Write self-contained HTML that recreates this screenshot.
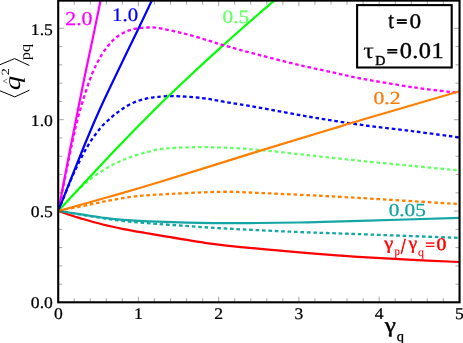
<!DOCTYPE html>
<html><head><meta charset="utf-8"><title>plot</title>
<style>html,body{margin:0;padding:0;background:#fff;overflow:hidden}svg{display:block}svg{font-family:"Liberation Serif",serif;text-rendering:geometricPrecision}</style>
</head><body>
<svg width="463" height="343" viewBox="0 0 463 343">
<defs><filter id="soft" x="0" y="0" width="463" height="343" filterUnits="userSpaceOnUse"><feGaussianBlur stdDeviation="0.3"/></filter></defs>
<g filter="url(#soft)">
<rect x="-5" y="-5" width="473" height="353" fill="#fff"/>
<clipPath id="c"><rect x="58.20" y="0" width="401.35" height="302.30"/></clipPath>
<g clip-path="url(#c)" fill="none" stroke-linecap="butt" stroke-linejoin="round">
<path d="M58.30,210.95 C61.90,211.52 72.65,213.22 79.90,214.40 C87.15,215.58 94.52,216.90 101.80,218.00 C109.08,219.10 114.23,220.02 123.60,221.00 C132.97,221.98 143.88,222.82 158.00,223.90 C172.12,224.98 191.63,226.45 208.30,227.50 C224.97,228.55 241.33,229.38 258.00,230.20 C274.67,231.02 291.63,231.75 308.30,232.40 C324.97,233.05 332.80,233.18 358.00,234.10 C383.20,235.02 442.58,237.27 459.50,237.90" stroke="#12a5a5" stroke-width="2.3" stroke-dasharray="3.6 2.8"/>
<path d="M58.30,210.95 C63.72,209.84 81.73,206.14 90.80,204.30 C99.87,202.46 105.40,201.22 112.70,199.90 C120.00,198.58 127.05,197.28 134.60,196.40 C142.15,195.52 143.88,195.37 158.00,194.60 C172.12,193.83 202.63,192.08 219.30,191.80 C235.97,191.52 243.17,192.33 258.00,192.90 C272.83,193.47 291.30,194.35 308.30,195.20 C325.30,196.05 334.80,196.52 360.00,198.00 C385.20,199.48 442.92,203.08 459.50,204.10" stroke="#ff7f00" stroke-width="2.3" stroke-dasharray="3.6 2.8"/>
<path d="M58.30,210.95 C61.08,207.97 71.38,196.91 75.00,193.10 C78.62,189.29 78.33,189.68 80.00,188.10 C81.67,186.52 83.33,185.03 85.00,183.60 C86.67,182.17 87.50,181.38 90.00,179.50 C92.50,177.62 96.67,174.50 100.00,172.30 C103.33,170.10 106.67,168.13 110.00,166.30 C113.33,164.47 116.67,162.80 120.00,161.30 C123.33,159.80 125.83,158.77 130.00,157.30 C134.17,155.83 140.00,153.85 145.00,152.50 C150.00,151.15 154.83,149.98 160.00,149.20 C165.17,148.42 169.77,148.13 176.00,147.80 C182.23,147.47 189.47,147.23 197.40,147.20 C205.33,147.17 213.50,147.17 223.60,147.60 C233.70,148.03 243.88,148.53 258.00,149.80 C272.12,151.07 291.30,153.37 308.30,155.20 C325.30,157.03 342.50,159.00 360.00,160.80 C377.50,162.60 396.72,164.38 413.30,166.00 C429.88,167.62 451.80,169.75 459.50,170.50" stroke="#66ff66" stroke-width="2.3" stroke-dasharray="3.6 2.8"/>
<path d="M58.30,210.95 C60.32,205.96 67.17,188.66 70.40,181.00 C73.63,173.34 75.27,170.05 77.70,165.00 C80.13,159.95 83.33,153.85 85.00,150.70 C86.67,147.55 86.72,147.73 87.70,146.10 C88.68,144.47 89.73,142.67 90.90,140.90 C92.07,139.13 93.43,137.23 94.70,135.50 C95.97,133.77 97.15,132.20 98.50,130.50 C99.85,128.80 101.22,126.97 102.80,125.30 C104.38,123.63 106.33,122.02 108.00,120.50 C109.67,118.98 111.22,117.55 112.80,116.20 C114.38,114.85 115.97,113.57 117.50,112.40 C119.03,111.23 120.35,110.32 122.00,109.20 C123.65,108.08 125.50,106.78 127.40,105.70 C129.30,104.62 131.42,103.57 133.40,102.70 C135.38,101.83 137.32,101.13 139.30,100.50 C141.28,99.87 143.32,99.37 145.30,98.90 C147.28,98.43 149.15,98.03 151.20,97.70 C153.25,97.37 153.92,97.17 157.60,96.90 C161.28,96.63 165.93,95.92 173.30,96.10 C180.67,96.28 193.42,97.07 201.80,98.00 C210.18,98.93 214.23,100.13 223.60,101.70 C232.97,103.27 243.88,104.92 258.00,107.40 C272.12,109.88 291.30,113.72 308.30,116.60 C325.30,119.48 342.50,122.25 360.00,124.70 C377.50,127.15 396.72,129.18 413.30,131.30 C429.88,133.42 451.80,136.38 459.50,137.40" stroke="#0000ff" stroke-width="2.3" stroke-dasharray="3.6 2.8"/>
<path d="M58.30,210.95 C60.08,211.57 65.40,213.51 69.00,214.70 C72.60,215.89 74.43,216.50 79.90,218.10 C85.37,219.70 94.52,222.47 101.80,224.30 C109.08,226.13 116.32,227.65 123.60,229.10 C130.88,230.55 139.77,232.00 145.50,233.00 C151.23,234.00 147.53,233.38 158.00,235.10 C168.47,236.82 191.63,241.03 208.30,243.30 C224.97,245.57 241.33,247.07 258.00,248.70 C274.67,250.33 291.63,251.75 308.30,253.10 C324.97,254.45 341.38,255.72 358.00,256.80 C374.62,257.88 391.08,258.73 408.00,259.60 C424.92,260.47 450.92,261.60 459.50,262.00" stroke="#ff0000" stroke-width="2.2"/>
<path d="M58.30,210.95 C61.90,211.49 72.65,213.11 79.90,214.20 C87.15,215.29 94.52,216.55 101.80,217.50 C109.08,218.45 114.23,219.20 123.60,219.90 C132.97,220.60 143.15,221.17 158.00,221.70 C172.85,222.23 196.03,222.88 212.70,223.10 C229.37,223.32 242.07,223.13 258.00,223.00 C273.93,222.87 291.30,222.65 308.30,222.30 C325.30,221.95 334.80,221.63 360.00,220.90 C385.20,220.17 442.92,218.40 459.50,217.90" stroke="#12a5a5" stroke-width="2.2"/>
<path d="M58.30,210.95 C67.77,200.79 98.48,167.46 115.10,150.00 C131.72,132.54 145.38,118.70 158.00,106.20 C170.62,93.70 179.87,85.22 190.80,75.00 C201.73,64.78 212.40,54.98 223.60,44.90 C234.80,34.82 249.85,21.62 258.00,14.50 C266.15,7.38 269.00,5.17 272.50,2.20 C276.00,-0.77 277.92,-2.38 279.00,-3.30" stroke="#00ff00" stroke-width="2.2"/>
<path d="M58.30,210.95 C60.37,200.79 67.65,164.64 70.70,150.00 C73.75,135.36 74.70,130.87 76.60,123.10 C78.50,115.33 79.60,111.42 82.10,103.40 C84.60,95.38 88.32,83.12 91.60,75.00 C94.88,66.88 98.28,60.45 101.80,54.70 C105.32,48.95 109.07,44.15 112.70,40.50 C116.33,36.85 119.95,34.73 123.60,32.80 C127.25,30.87 130.95,29.77 134.60,28.90 C138.25,28.03 141.60,27.75 145.50,27.60 C149.40,27.45 151.72,27.05 158.00,28.00 C164.28,28.95 174.82,31.22 183.20,33.30 C191.58,35.38 201.57,38.50 208.30,40.50 C215.03,42.50 215.32,42.93 223.60,45.30 C231.88,47.67 244.97,51.32 258.00,54.70 C271.03,58.08 287.63,62.27 301.80,65.60 C315.97,68.93 333.22,72.55 343.00,74.70 C352.78,76.85 348.78,76.40 360.50,78.50 C372.22,80.60 396.80,84.87 413.30,87.30 C429.80,89.73 451.80,92.13 459.50,93.10" stroke="#ff00ff" stroke-width="2.3" stroke-dasharray="3.6 2.8"/>
<path d="M58.30,210.95 C60.25,200.79 66.77,166.64 70.00,150.00 C73.23,133.36 75.20,123.60 77.70,111.10 C80.20,98.60 82.45,87.32 85.00,75.00 C87.55,62.68 90.47,49.33 93.00,37.20 C95.53,25.07 98.83,8.90 100.20,2.20 C101.57,-4.50 101.03,-2.13 101.20,-3.00" stroke="#ff00ff" stroke-width="2.2"/>
<path d="M58.30,210.95 C62.33,200.79 75.80,166.46 82.50,150.00 C89.20,133.54 92.92,124.70 98.50,112.20 C104.08,99.70 109.25,89.13 116.00,75.00 C122.75,60.87 133.17,39.53 139.00,27.40 C144.83,15.27 148.58,7.27 151.00,2.20 C153.42,-2.87 153.08,-2.13 153.50,-3.00" stroke="#0000ff" stroke-width="2.2"/>
<path d="M58.30,210.95 C66.63,208.62 91.68,201.74 108.30,197.00 C124.92,192.26 133.05,190.10 158.00,182.50 C182.95,174.90 229.48,160.18 258.00,151.40 C286.52,142.62 311.60,135.12 329.10,129.80 C346.60,124.48 341.27,125.92 363.00,119.50 C384.73,113.08 443.42,96.00 459.50,91.30" stroke="#ff7f00" stroke-width="2.2"/>
</g>
<rect x="58.20" y="0.60" width="401.35" height="301.70" fill="none" stroke="#000" stroke-width="2.1"/>
<rect x="357.1" y="5.1" width="94.6" height="62.4" fill="#fff" stroke="#000" stroke-width="2.1"/>
<g transform="translate(52.90,34.56) scale(1.0683,0.9870)"><text font-family="Liberation Serif" font-size="16.5" fill="#000" stroke="#000" stroke-width="0.25" text-anchor="end">1.5</text></g>
<g transform="translate(52.90,125.86) scale(1.0683,0.9870)"><text font-family="Liberation Serif" font-size="16.5" fill="#000" stroke="#000" stroke-width="0.25" text-anchor="end">1.0</text></g>
<g transform="translate(52.90,217.16) scale(1.0683,0.9870)"><text font-family="Liberation Serif" font-size="16.5" fill="#000" stroke="#000" stroke-width="0.25" text-anchor="end">0.5</text></g>
<g transform="translate(52.90,308.46) scale(1.0683,0.9870)"><text font-family="Liberation Serif" font-size="16.5" fill="#000" stroke="#000" stroke-width="0.25" text-anchor="end">0.0</text></g>
<g transform="translate(58.30,319.31) scale(1.0683,0.9870)"><text font-family="Liberation Serif" font-size="16.5" fill="#000" stroke="#000" stroke-width="0.25" text-anchor="middle">0</text></g>
<g transform="translate(138.50,319.31) scale(1.0683,0.9870)"><text font-family="Liberation Serif" font-size="16.5" fill="#000" stroke="#000" stroke-width="0.25" text-anchor="middle">1</text></g>
<g transform="translate(218.70,319.31) scale(1.0683,0.9870)"><text font-family="Liberation Serif" font-size="16.5" fill="#000" stroke="#000" stroke-width="0.25" text-anchor="middle">2</text></g>
<g transform="translate(298.90,319.31) scale(1.0683,0.9870)"><text font-family="Liberation Serif" font-size="16.5" fill="#000" stroke="#000" stroke-width="0.25" text-anchor="middle">3</text></g>
<g transform="translate(379.10,319.31) scale(1.0683,0.9870)"><text font-family="Liberation Serif" font-size="16.5" fill="#000" stroke="#000" stroke-width="0.25" text-anchor="middle">4</text></g>
<g transform="translate(459.40,319.31) scale(1.0683,0.9870)"><text font-family="Liberation Serif" font-size="16.5" fill="#000" stroke="#000" stroke-width="0.25" text-anchor="middle">5</text></g>
<g transform="translate(65.21,24.70) scale(1.1196,1.0074)"><text font-family="Liberation Serif" font-size="19.5" fill="#ff00ff" stroke="#ff00ff" stroke-width="0.25">2.0</text></g>
<g transform="translate(112.10,21.31) scale(1.0674,0.9745)"><text font-family="Liberation Serif" font-size="19.5" fill="#0000ff" stroke="#0000ff" stroke-width="0.25">1.0</text></g>
<g transform="translate(222.60,23.01) scale(1.0946,0.9709)"><text font-family="Liberation Serif" font-size="19.5" fill="#66ff66" stroke="#66ff66" stroke-width="0.25">0.5</text></g>
<g transform="translate(373.49,104.38) scale(1.1109,0.9418)"><text font-family="Liberation Serif" font-size="19.5" fill="#ff7800" stroke="#ff7800" stroke-width="0.25">0.2</text></g>
<g transform="translate(388.65,216.38) scale(1.0909,0.9418)"><text font-family="Liberation Serif" font-size="19.5" fill="#0fa3a3" stroke="#0fa3a3" stroke-width="0.25">0.05</text></g>
<g transform="translate(384.28,249.48) scale(1.1030,0.9692)"><text font-family="Liberation Serif" font-size="18.5" fill="#ff0000" stroke="#ff0000" stroke-width="0.4">γ</text></g>
<g transform="translate(394.40,255.24) scale(0.8667,0.9314)"><text font-family="Liberation Serif" font-size="12.5" fill="#ff0000" stroke="#ff0000" stroke-width="0.15">p</text></g>
<g transform="translate(401.10,252.51) scale(0.8000,1.0552)"><text font-family="Liberation Serif" font-size="20" fill="#ff0000" stroke="#ff0000" stroke-width="0.8">/</text></g>
<g transform="translate(408.71,249.48) scale(1.0242,0.9692)"><text font-family="Liberation Serif" font-size="18.5" fill="#ff0000" stroke="#ff0000" stroke-width="0.4">γ</text></g>
<g transform="translate(418.06,255.93) scale(0.9500,0.9333)"><text font-family="Liberation Serif" font-size="12.5" fill="#ff0000" stroke="#ff0000" stroke-width="0.15">q</text></g>
<g transform="translate(425.29,249.75) scale(1.2286,1.1412)"><text font-family="Liberation Serif" font-size="14" fill="#ff0000" stroke="#ff0000" stroke-width="0.45">=</text></g>
<g transform="translate(436.43,250.27) scale(1.0629,0.9623)"><text font-family="Liberation Serif" font-size="18.5" fill="#ff0000" stroke="#ff0000" stroke-width="0.5">0</text></g>
<g transform="translate(388.20,28.07) scale(0.9120,1.0566)"><text font-family="Liberation Serif" font-size="22" fill="#000" stroke="#000" stroke-width="0.4">t</text></g>
<g transform="translate(396.50,25.75) scale(1.3419,0.9789)"><text font-family="Liberation Serif" font-size="14" fill="#000" stroke="#000" stroke-width="0.95">=</text></g>
<g transform="translate(409.57,28.13) scale(1.0600,0.9419)"><text font-family="Liberation Serif" font-size="22" fill="#000" stroke="#000" stroke-width="0.4">0</text></g>
<g transform="translate(363.29,58.34) scale(1.2242,1.0286)"><text font-family="Liberation Serif" font-size="22" fill="#000" stroke="#000" stroke-width="0.1">τ</text></g>
<g transform="translate(375.20,65.16) scale(1.0000,0.9744)"><text font-family="Liberation Serif" font-size="14" fill="#000" stroke="#000" stroke-width="0.45">D</text></g>
<g transform="translate(387.10,55.85) scale(1.3419,1.0211)"><text font-family="Liberation Serif" font-size="14" fill="#000" stroke="#000" stroke-width="0.95">=</text></g>
<g transform="translate(399.65,58.29) scale(1.1072,1.0226)"><text font-family="Liberation Serif" font-size="22" fill="#000" stroke="#000" stroke-width="0.4" letter-spacing="0.4">0.01</text></g>
<g transform="translate(384.67,332.02) scale(1.0927,0.9292)"><text font-family="Liberation Serif" font-size="23" fill="#000" stroke="#000" stroke-width="0.45">γ</text></g>
<text x="396.7" y="340.6" font-family="Liberation Serif" font-size="14.5" fill="#000" stroke="#000" stroke-width="0.3">q</text>
<g fill="none" stroke="#000" stroke-width="1.0" stroke-linejoin="miter"><polyline points="-0.5,90.6 14.8,96.9 29.4,90.2"/><polyline points="-0.5,64.9 14.6,58.6 29.4,65.5"/></g>
<polyline points="7.4,78.9 3.3,81 7.4,83.2" fill="none" stroke="#555" stroke-width="0.7"/>
<g transform="translate(19.7,90.2) rotate(-90) scale(1.25,1)"><text font-family="Liberation Serif" font-size="23" font-style="italic" fill="#000">q</text></g>
<g transform="translate(9.3,75.4) rotate(-90) scale(1.35,1)"><text font-family="Liberation Serif" font-size="11" fill="#000">2</text></g>
<g transform="translate(29.9,60.3) rotate(-90) scale(1.14,1)"><text font-family="Liberation Serif" font-size="14.4" fill="#000">pq</text></g>
</g>
<path d="M58.15,302.30 v-5.60 M58.15,0.60 v5.60 M74.20,302.30 v-4.00 M74.20,0.60 v4.00 M90.25,302.30 v-4.00 M90.25,0.60 v4.00 M106.30,302.30 v-4.00 M106.30,0.60 v4.00 M122.35,302.30 v-4.00 M122.35,0.60 v4.00 M138.40,302.30 v-5.60 M138.40,0.60 v5.60 M154.45,302.30 v-4.00 M154.45,0.60 v4.00 M170.50,302.30 v-4.00 M170.50,0.60 v4.00 M186.55,302.30 v-4.00 M186.55,0.60 v4.00 M202.60,302.30 v-4.00 M202.60,0.60 v4.00 M218.65,302.30 v-5.60 M218.65,0.60 v5.60 M234.70,302.30 v-4.00 M234.70,0.60 v4.00 M250.75,302.30 v-4.00 M250.75,0.60 v4.00 M266.80,302.30 v-4.00 M266.80,0.60 v4.00 M282.85,302.30 v-4.00 M282.85,0.60 v4.00 M298.90,302.30 v-5.60 M298.90,0.60 v5.60 M314.95,302.30 v-4.00 M314.95,0.60 v4.00 M331.00,302.30 v-4.00 M331.00,0.60 v4.00 M347.05,302.30 v-4.00 M347.05,0.60 v4.00 M363.10,302.30 v-4.00 M363.10,0.60 v4.00 M379.15,302.30 v-5.60 M379.15,0.60 v5.60 M395.20,302.30 v-4.00 M395.20,0.60 v4.00 M411.25,302.30 v-4.00 M411.25,0.60 v4.00 M427.30,302.30 v-4.00 M427.30,0.60 v4.00 M443.35,302.30 v-4.00 M443.35,0.60 v4.00 M459.40,302.30 v-5.60 M459.40,0.60 v5.60 M58.20,302.45 h5.60 M459.55,302.45 h-5.60 M58.20,284.18 h4.00 M459.55,284.18 h-4.00 M58.20,265.90 h4.00 M459.55,265.90 h-4.00 M58.20,247.62 h4.00 M459.55,247.62 h-4.00 M58.20,229.35 h4.00 M459.55,229.35 h-4.00 M58.20,211.07 h5.60 M459.55,211.07 h-5.60 M58.20,192.80 h4.00 M459.55,192.80 h-4.00 M58.20,174.52 h4.00 M459.55,174.52 h-4.00 M58.20,156.25 h4.00 M459.55,156.25 h-4.00 M58.20,137.97 h4.00 M459.55,137.97 h-4.00 M58.20,119.70 h5.60 M459.55,119.70 h-5.60 M58.20,101.42 h4.00 M459.55,101.42 h-4.00 M58.20,83.15 h4.00 M459.55,83.15 h-4.00 M58.20,64.87 h4.00 M459.55,64.87 h-4.00 M58.20,46.60 h4.00 M459.55,46.60 h-4.00 M58.20,28.32 h5.60 M459.55,28.32 h-5.60" stroke="#000" stroke-opacity="0.6" stroke-width="0.6" fill="none"/>
</svg>
</body></html>
